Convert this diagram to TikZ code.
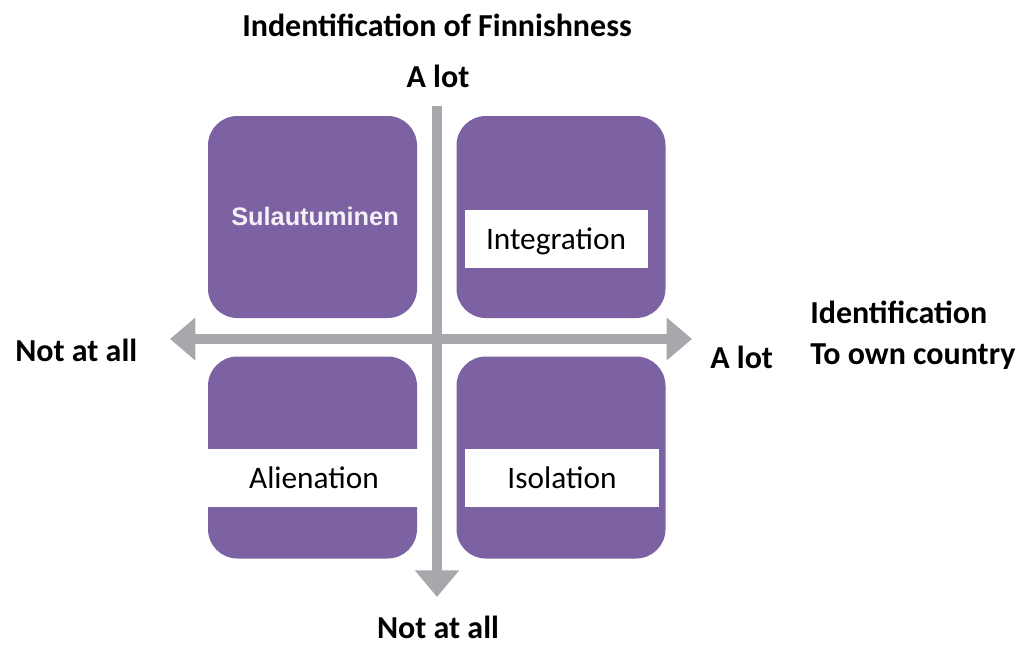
\documentclass[tikz,border=0pt]{standalone}
\usepackage{fontspec}
\setmainfont{Carlito}
\newfontfamily\arialfont{Liberation Sans}
\usetikzlibrary{arrows.meta,positioning}
\definecolor{quadpurple}{HTML}{7D62A3}
\definecolor{axisgrey}{HTML}{A7A8AC}
\definecolor{nametint}{HTML}{F3F1F7}
\tikzset{
  quad/.style       = {fill=quadpurple, rounded corners=22pt, minimum width=156.75pt,
                       minimum height=151.5pt, inner sep=0pt},
  quad name/.style  = {text=nametint, font=\arialfont\bfseries\fontsize{19}{22}\selectfont,
                       text height=13.7pt, text depth=0pt, inner sep=0pt},
  label box/.style  = {fill=white, minimum height=43.5pt, inner sep=0pt, text height=15pt,
                       text depth=0pt, font=\fontsize{23.5}{28}\selectfont},
  axis/.style       = {axisgrey, line width=7.5pt},
  axis label/.style = {font=\bfseries\fontsize{24}{29}\selectfont, anchor=base, inner sep=0pt},
}

\begin{document}
\begin{tikzpicture}[x=0.75pt, y=-0.75pt]
  \useasboundingbox (0,0) rectangle (1021,644);
  % the four quadrants
  \node[quad] (sul)   at (312.5,217)   {};
  \node[quad] (integ) at (561,217)     {};
  \node[quad] (alien) at (312.5,457.5) {};
  \node[quad] (isol)  at (561,457.5)   {};
  % axes
  \coordinate (west)  at (170,339);
  \coordinate (east)  at (692,339);
  \coordinate (north) at (437,106);
  \coordinate (south) at (437,597);
  \draw[axis, {Triangle[length=19pt,width=31pt]}-{Triangle[length=19pt,width=31pt]}] (west) -- (east);
  \draw[axis, -{Triangle[length=20pt,width=32pt]}] (north) -- (south);
  % quadrant names
  \node[quad name] (sulname) at (315,216) {Sulautuminen};
  \node[label box, minimum width=137.25pt] (integration) at (556,239) {Integration};
  \node[label box, minimum width=159pt]    (alienation)  at (314,478) {Alienation};
  \node[label box, minimum width=145.5pt]  (isolation)   at (562,478) {Isolation};
  % axis labels
  \node[axis label] (ytitle) at (437,36)  {Indentification of Finnishness};
  \node[axis label] (ylot)   at (438,87)  {A lot};
  \node[axis label] (ynone)  at (438,638) {Not at all};
  \node[axis label, anchor=base west] (xnone)  at (15,361)  {Not at all};
  \node[axis label, anchor=base west] (xlot)   at (710,368) {A lot};
  \node[axis label, anchor=base west] (xname)  at (810,323) {Identification};
  \node[axis label, anchor=base west] (xname2) at (810,364) {To own country};
\end{tikzpicture}
\end{document}
